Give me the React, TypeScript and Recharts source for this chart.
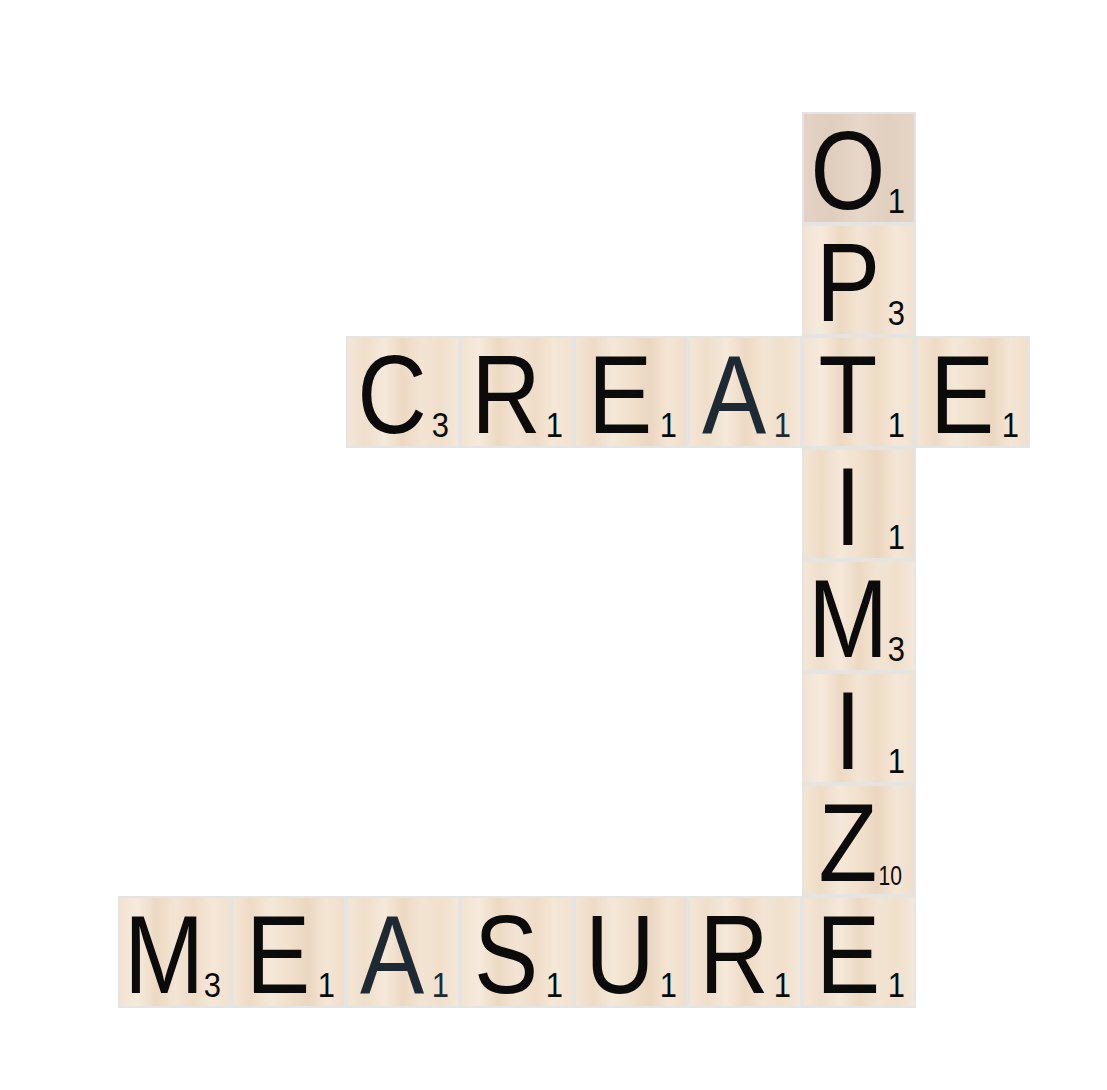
import { Scatter, ScatterChart, XAxis, YAxis } from "recharts";

// three words laid on an 8x8 board, [col, row] of first letter
const words = ["CREATE", "OPTIMIZE", "MEASURE"];
const starts = [
  [2, 2],
  [6, 0],
  [0, 7],
];
const directions = ["across", "down", "across"];

// standard tile scores for the letters used
const letterScores: Record<string, number> = {
  A: 1, C: 3, E: 1, I: 1, M: 3, O: 1, P: 3, R: 1, S: 1, T: 1, U: 1, Z: 10,
};

type Tile = { x: number; y: number; letter: string; score: number; k: number };

function buildTiles(): Tile[] {
  const seen = new Map<string, Tile>();
  words.forEach((w, i) => {
    const [c0, r0] = starts[i];
    [...w].forEach((ch, j) => {
      const col = directions[i] === "across" ? c0 + j : c0;
      const row = directions[i] === "down" ? r0 + j : r0;
      const key = `${col}-${row}`;
      if (!seen.has(key)) {
        seen.set(key, { x: col + 0.5, y: row + 0.5, letter: ch, score: letterScores[ch], k: seen.size });
      }
    });
  });
  return [...seen.values()];
}

const tiles = buildTiles();

const CELL_W = 114;
const CELL_H = 112;
const FONT = "'Liberation Sans', Arial, sans-serif";

const grains = [
  ["#f4e6d6", "#efdeca", "#f5e9da", "#edd9c3", "#f3e4d3", "#f0dfcb", "#f5e8d8"],
  ["#f2e3d1", "#f6eadc", "#ecd9c2", "#f3e4d3", "#efdcc7", "#f5e7d7", "#f1e1ce"],
  ["#f4e5d4", "#eedbc5", "#f5e8d8", "#f1e0cc", "#ebd7c0", "#f4e5d4", "#f0dec9"],
];

function TileShape(props: any) {
  const { cx, cy, payload } = props;
  if (cx == null || cy == null) return null;
  const x = cx - CELL_W / 2;
  const y = cy - CELL_H / 2;
  const id = `wood-${payload.k}`;
  const stops = payload.letter === "O" ? ["#e4d3c4", "#dfcdbd", "#e7d7c8", "#e1cfbf", "#e6d5c6"] : grains[payload.k % 3];
  const ink = payload.letter === "A" ? "#1e2a33" : "#0b0b0b";
  const big = payload.score > 9;
  return (
    <g>
      <defs>
        <linearGradient id={id} x1="0" y1="0" x2="1" y2="0">
          {stops.map((c, i) => (
            <stop key={i} offset={i / (stops.length - 1)} stopColor={c} />
          ))}
        </linearGradient>
      </defs>
      <rect x={x + 1} y={y + 1} width={CELL_W - 2} height={CELL_H - 2} fill={`url(#${id})`} stroke="#e4e4e4" strokeWidth={2} />
      <text
        transform={`translate(${x + 46} ${y + 97}) scale(0.86 1)`}
        textAnchor="middle"
        fontFamily={FONT}
        fontSize={112}
        fill={ink}
      >
        {payload.letter}
      </text>
      <text
        transform={`translate(${x + CELL_W - (big ? 14 : 11)} ${y + CELL_H - 11}) scale(${big ? 0.78 : 0.86} 1)`}
        textAnchor="end"
        fontFamily={FONT}
        fontSize={big ? 27 : 36}
        fill={ink}
      >
        {payload.score}
      </text>
    </g>
  );
}

export default function App() {
  return (
    <div style={{ width: 1091, height: 1082, background: "#fff" }}>
      <ScatterChart width={1091} height={1082} margin={{ top: 104, left: 110, right: 69, bottom: 82 }}>
        <XAxis type="number" dataKey="x" domain={[0, 8]} hide />
        <YAxis type="number" dataKey="y" domain={[0, 8]} reversed hide />
        <Scatter data={tiles} shape={TileShape} isAnimationActive={false} />
      </ScatterChart>
    </div>
  );
}
